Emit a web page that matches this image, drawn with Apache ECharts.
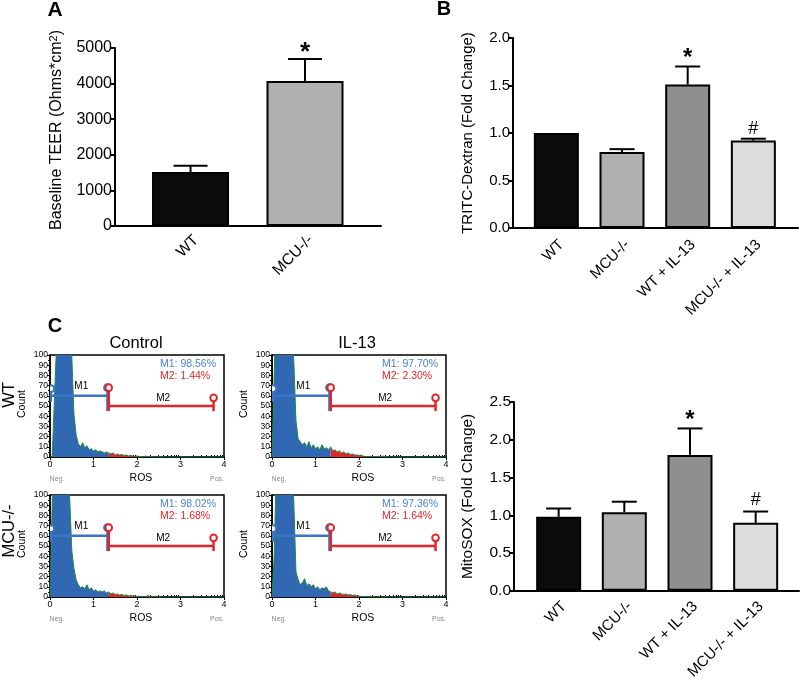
<!DOCTYPE html>
<html><head><meta charset="utf-8">
<script src="https://cdn.jsdelivr.net/npm/echarts@6/dist/echarts.min.js"></script>
<style>html,body{margin:0;padding:0;background:#fff}#c{width:800px;height:682px}</style>
</head><body><div id="c"></div>
<script>
// ---------- Panel A : Baseline TEER ----------
const teerCategories = ['WT', 'MCU-/-'];
const teerMeans = [1517, 4073];
const teerErrTop = [1690, 4690];
const teerMarks = ['', '*'];
const teerColors = ['#0b0b0b', '#b0b0b0'];

// ---------- Panel B : TRITC-Dextran ----------
const groupCategories = ['WT', 'MCU-/-', 'WT + IL-13', 'MCU-/- + IL-13'];
const groupColors = ['#0b0b0b', '#b0b0b0', '#8f8f8f', '#dcdcdc'];
const tritcMeans = [1.0, 0.80, 1.51, 0.92];
const tritcErrTop = [1.0, 0.83, 1.70, 0.94];
const tritcMarks = ['', '', '*', '#'];

// ---------- Panel C (right) : MitoSOX ----------
const mitoMeans = [0.98, 1.04, 1.80, 0.90];
const mitoErrTop = [1.09, 1.18, 2.15, 1.05];
const mitoMarks = ['', '', '*', '#'];

// ---------- Panel C (left) : ROS flow histograms, bins of 0.05 from 0 to 4 ----------
const rosBinWidth = 0.05;
const histWTControl = [
  0,0,55,110,220,260,270,250,210,160,
  100,42,22,13,10,14,9,11,7,8,
  6,7,5,6,5,4,5,4,3,4,
  2,3,2,2.5,1.5,2,1,1.5,1,0.5,
  1,0.5,0.5,0.3,0.8,0.3,0.2,0.5,0.2,0,
  0.3,0,0.2,0,0,0,0,0,0,0,
  0.2,0,0,0,0,0,0,0,0,0,
  0,0,0,0,0,0,0,0,0,0,
  0];
const histWTIL13 = [
  0,80,150,240,280,290,270,240,190,140,
  95,36,18,15,12,14,10,15,9,12,
  8,10,7,12,8,9,7,10,6,7,
  5,6,4,5,3,4,2.5,3,2,2,
  1.5,2,0.8,0.5,0.3,0.3,0.2,0.3,0.2,0.5,
  0.3,1,0.2,0.3,0,0.2,0,0,0,0,
  0,0,0,0,0,0,0,0,0,0,
  0,0,0,0,0,0,0,0,0,0,
  0];
const histMCUControl = [
  0,90,180,250,270,260,230,180,130,100,
  46,28,17,12,9,10,8,12,7,9,
  6,7,5,6,5,6,4,5,3,4,
  2.5,3,2,2.5,1.5,2,1,1.5,0.8,1,
  0.5,0.8,0.3,0.5,0.3,1.5,0.3,0.2,0.3,0,
  0.2,0,0,0,0,0,0,0,0,0,
  0,0,0,0,0,0,0,0,0,0,
  0,0,0,0,0,0,0,0,0,0,
  0];
const histMCUIL13 = [
  0,40,130,230,280,280,260,220,170,130,
  95,25,17,12,14,18,11,13,10,12,
  8,10,7,9,8,10,6,5,4,5,
  3,4,3,2.5,3,2,2.5,1.5,2,1,
  1,0.5,0.5,0.3,0.3,0.2,0.2,0.3,0,0.2,
  0,0,0.2,0,0,0,0,0,0,0,
  0,0,0,0,0,0,0,0,0,0,
  0,0,0,0,0,0,0,0,0,0,
  0];
const histStats = [
  ['M1: 98.56%', 'M2: 1.44%'],
  ['M1: 97.70%', 'M2: 2.30%'],
  ['M1: 98.02%', 'M2: 1.68%'],
  ['M1: 97.36%', 'M2: 1.64%']
];
const histColTitles = ['Control', 'IL-13'];
const histRowTitles = ['WT', 'MCU-/-'];
// gates (ROS units / count units)
const gateNames = ['M1', 'M2'];
const gateFrom = [0.02, 1.35];
const gateTo = [1.32, 3.76];
const gateLevel = [60, 50];
const gateCircle = [[67, 68], [68, 58]];
const gateBottom = [[54, 45], [45, 45]];
const gateLabelX = [0.72, 2.6];
const gateLabelY = [69, 58];

// ---------- styling ----------
const FONT = '"Liberation Sans", Arial, Helvetica, sans-serif';
const BLUE = '#3068b4', RED = '#e3262a', GREEN = '#1f8a45';
const GATE_BLUE = '#3b76c4', STAT_BLUE = '#4a83d2';

const grids = [
  {left: 115, top: 48, width: 266, height: 178},   // A
  {left: 513, top: 38, width: 285, height: 190},   // B
  {left: 514, top: 402, width: 285, height: 189},  // C right
  {left: 50, top: 355, width: 174, height: 102},   // hist WT control
  {left: 272, top: 355, width: 174, height: 102},  // hist WT IL-13
  {left: 50, top: 495, width: 174, height: 102},   // hist MCU control
  {left: 272, top: 495, width: 174, height: 102}   // hist MCU IL-13
];
grids.forEach((g, i) => { if (i >= 3) { g.show = true; g.borderColor = '#000'; g.borderWidth = 1.5; } });

function catXAxis(grid, cats, min, max, fontSize, margin) {
  return {
    type: 'value', gridIndex: grid, min, max,
    axisLine: {show: true, onZero: false, lineStyle: {color: '#000', width: 2}},
    axisTick: {show: false}, splitLine: {show: false},
    axisLabel: {customValues: cats.map((c, i) => i), formatter: v => cats[Math.round(v)] || '',
      rotate: 45, fontSize, color: '#000', fontFamily: FONT, margin, verticalAlign: 'top'}
  };
}
function valYAxis(grid, max, interval, digits, name, fontSize, nameGap, rich, namePad) {
  return {
    type: 'value', gridIndex: grid, min: 0, max, interval,
    axisLine: {show: true, onZero: false, lineStyle: {color: '#000', width: 2}},
    axisTick: {show: true, length: 5, lineStyle: {width: 2, color: '#000'}},
    splitLine: {show: false},
    axisLabel: {fontSize, color: '#000', fontFamily: FONT, margin: 3, formatter: v => v.toFixed(digits)},
    name, nameLocation: 'middle', nameGap,
    nameTextStyle: {fontSize, color: '#000', fontFamily: FONT, rich, padding: namePad || 0}
  };
}

const xAxes = [
  catXAxis(0, teerCategories, -0.66, 1.664, 15.5, 6),
  catXAxis(1, groupCategories, -0.66, 3.68, 15, 9),
  catXAxis(2, groupCategories, -0.68, 3.66, 15, 8)
];
const yAxes = [
  valYAxis(0, 5000, 1000, 0, 'Baseline TEER (Ohms*cm{sup|2})', 16, 50,
    {sup: {fontSize: 11, fontFamily: FONT, color: '#000', verticalAlign: 'top', padding: [0, 0, 6, 0]}}, [0, 0, 0, 14]),
  valYAxis(1, 2.0, 0.5, 1, 'TRITC-Dextran (Fold Change)', 15, 38),
  valYAxis(2, 2.5, 0.5, 1, 'MitoSOX (Fold Change)', 15.5, 38)
];

// histogram axes
const minorRos = [];
[0, 1, 2, 3].forEach(d => [2, 3, 4, 5, 6, 7, 8, 9].forEach(k => minorRos.push(d + Math.log10(k))));
for (let h = 0; h < 4; h++) {
  xAxes.push({
    type: 'value', gridIndex: 3 + h, min: 0, max: 4, interval: 1,
    axisLine: {show: true, onZero: false, lineStyle: {color: '#000', width: 1.5}},
    axisTick: {show: true, length: 3, lineStyle: {color: '#000', width: 1}},
    splitLine: {show: false},
    axisLabel: {fontSize: 9, color: '#000', fontFamily: FONT, margin: 3}
  });
  yAxes.push({
    type: 'value', gridIndex: 3 + h, min: 0, max: 100, interval: 10,
    axisLine: {show: true, onZero: false, lineStyle: {color: '#000', width: 1.5}},
    axisTick: {show: true, length: 3, lineStyle: {color: '#000', width: 1}},
    minorTick: {show: true, splitNumber: 2, length: 2, lineStyle: {color: '#000', width: 1}},
    splitLine: {show: false},
    axisLabel: {fontSize: 8.5, color: '#000', fontFamily: FONT, margin: 2}
  });
}
for (let h = 0; h < 4; h++) {
  xAxes.push({
    type: 'value', gridIndex: 3 + h, min: 0, max: 4,
    axisLine: {show: false}, splitLine: {show: false}, axisLabel: {show: false},
    axisTick: {show: true, length: 2, customValues: minorRos, lineStyle: {color: '#000', width: 1}}
  });
}

const series = [];
function addBars(ax, means, tops, marks, colors, barWidth, capHalf, markFont, starOff, hashOff) {
  series.push({
    type: 'bar', xAxisIndex: ax, yAxisIndex: ax, barWidth,
    data: means.map((v, i) => ({value: [i, v], itemStyle: {color: colors[i]}})),
    itemStyle: {borderColor: '#000', borderWidth: 2}, z: 2
  });
  series.push({
    type: 'custom', xAxisIndex: ax, yAxisIndex: ax, clip: false, z: 3,
    data: means.map((m, i) => [i, m, tops[i]]),
    renderItem(params, api) {
      const x = api.value(0), m = api.value(1), t = api.value(2);
      const p0 = api.coord([x, m]), p1 = api.coord([x, t]);
      const ch = [];
      if (t > m) {
        ch.push({type: 'line', shape: {x1: p0[0], y1: p0[1], x2: p1[0], y2: p1[1]}, style: {stroke: '#000', lineWidth: 2}});
        ch.push({type: 'line', shape: {x1: p1[0] - capHalf, y1: p1[1], x2: p1[0] + capHalf, y2: p1[1]}, style: {stroke: '#000', lineWidth: 2}});
      }
      const mk = marks[params.dataIndex];
      if (mk) {
        const isStar = mk === '*';
        ch.push({type: 'text', x: p1[0], y: p1[1] - (isStar ? starOff : hashOff),
          style: {text: mk, fill: '#000', font: (isStar ? 'bold ' + markFont : (markFont * 0.75)) + 'px ' + FONT,
            align: 'center', verticalAlign: 'middle', textAlign: 'center', textVerticalAlign: 'middle'}});
      }
      return {type: 'group', children: ch};
    }
  });
}
addBars(0, teerMeans, teerErrTop, teerMarks, teerColors, 77, 17, 26, 6, 10);
addBars(1, tritcMeans, tritcErrTop, tritcMarks, groupColors, 45, 12.5, 24, 8, 10);
addBars(2, mitoMeans, mitoErrTop, mitoMarks, groupColors, 45, 12.5, 24, 8, 11);

const hists = [histWTControl, histWTIL13, histMCUControl, histMCUIL13];
const splitX = gateFrom[1];
hists.forEach((counts, h) => {
  const ax = 3 + h;
  const pts = counts.map((c, i) => [+(i * rosBinWidth).toFixed(2), c]);
  const bluePts = pts.filter(p => p[0] <= splitX + 1e-9);
  const redPts = pts.filter(p => p[0] >= splitX - 1e-9);
  const common = {type: 'line', xAxisIndex: ax, yAxisIndex: ax, showSymbol: false, symbol: 'none', clip: true, silent: true};
  series.push(Object.assign({}, common, {data: bluePts, lineStyle: {width: 0}, areaStyle: {color: BLUE, opacity: 1}, z: 1}));
  series.push(Object.assign({}, common, {data: redPts, lineStyle: {width: 0}, areaStyle: {color: RED, opacity: 1}, z: 1}));
  series.push(Object.assign({}, common, {data: pts, lineStyle: {width: 1, color: GREEN}, z: 2}));
  series.push({
    type: 'custom', xAxisIndex: ax, yAxisIndex: ax, clip: true, z: 4,
    data: gateNames.map((n, i) => [gateFrom[i], gateLevel[i]]),
    renderItem(params, api) {
      const i = params.dataIndex;
      const col = i === 0 ? GATE_BLUE : RED;
      const L = api.coord([gateFrom[i], gateLevel[i]]);
      const R = api.coord([gateTo[i], gateLevel[i]]);
      const lc = api.coord([gateFrom[i], gateCircle[i][0]]);
      const rc = api.coord([gateTo[i], gateCircle[i][1]]);
      const lb = api.coord([gateFrom[i], gateBottom[i][0]]);
      const rb = api.coord([gateTo[i], gateBottom[i][1]]);
      const lab = api.coord([gateLabelX[i], gateLabelY[i]]);
      const st = {stroke: col, lineWidth: 2.5};
      const cs = {stroke: col, lineWidth: 2, fill: '#fff'};
      return {type: 'group', children: [
        {type: 'line', shape: {x1: L[0], y1: L[1], x2: R[0], y2: R[1]}, style: st},
        {type: 'line', shape: {x1: lc[0], y1: lc[1], x2: lb[0], y2: lb[1]}, style: st},
        {type: 'line', shape: {x1: rc[0], y1: rc[1], x2: rb[0], y2: rb[1]}, style: st},
        {type: 'circle', shape: {cx: lc[0], cy: lc[1], r: 3.3}, style: cs},
        {type: 'circle', shape: {cx: rc[0], cy: rc[1], r: 3.3}, style: cs},
        {type: 'text', x: lab[0], y: lab[1], style: {text: gateNames[i], fill: '#000', font: '10px ' + FONT,
          align: 'center', verticalAlign: 'middle', textAlign: 'center', textVerticalAlign: 'middle'}}
      ]};
    }
  });
});

// ---------- text annotations ----------
function T(x, y, text, size, o) {
  o = o || {};
  return {type: 'text', x, y, rotation: o.rot || 0, z: 10,
    style: {text, fill: o.color || '#000', font: (o.bold ? 'bold ' : '') + size + 'px ' + FONT,
      align: o.align || 'center', verticalAlign: o.va || 'middle',
      textAlign: o.align || 'center', textVerticalAlign: o.va || 'middle'}};
}
const graphics = [
  T(55, 10, 'A', 21, {bold: true}),
  T(444, 9, 'B', 20, {bold: true}),
  T(55, 326, 'C', 20, {bold: true}),
  T(136, 343, histColTitles[0], 16.5),
  T(357, 343, histColTitles[1], 16.5),
  T(9, 395, histRowTitles[0], 16.5, {rot: Math.PI / 2}),
  T(9, 531, histRowTitles[1], 16.5, {rot: Math.PI / 2})
];
for (let h = 0; h < 4; h++) {
  const g = grids[3 + h];
  const L = g.left, Tp = g.top, B = g.top + g.height, Rr = g.left + g.width;
  graphics.push(T(L - 28, Tp + 49, 'Count', 10.5, {rot: Math.PI / 2}));
  graphics.push(T(L + (Rr - L) / 2 + 4, B + 21, 'ROS', 10.5));
  graphics.push(T(L + 7, B + 22, 'Neg.', 7, {color: '#8a8a8a'}));
  graphics.push(T(Rr - 7, B + 22, 'Pos.', 7, {color: '#8a8a8a'}));
  graphics.push(T(L + 110, Tp + 9, histStats[h][0], 10.5, {align: 'left', color: STAT_BLUE}));
  graphics.push(T(L + 110, Tp + 21, histStats[h][1], 10.5, {align: 'left', color: RED}));
}

const chart = echarts.init(document.getElementById('c'));
chart.setOption({
  animation: false,
  backgroundColor: '#fff',
  grid: grids,
  xAxis: xAxes,
  yAxis: yAxes,
  series,
  graphic: graphics
});
</script>
</body></html>
